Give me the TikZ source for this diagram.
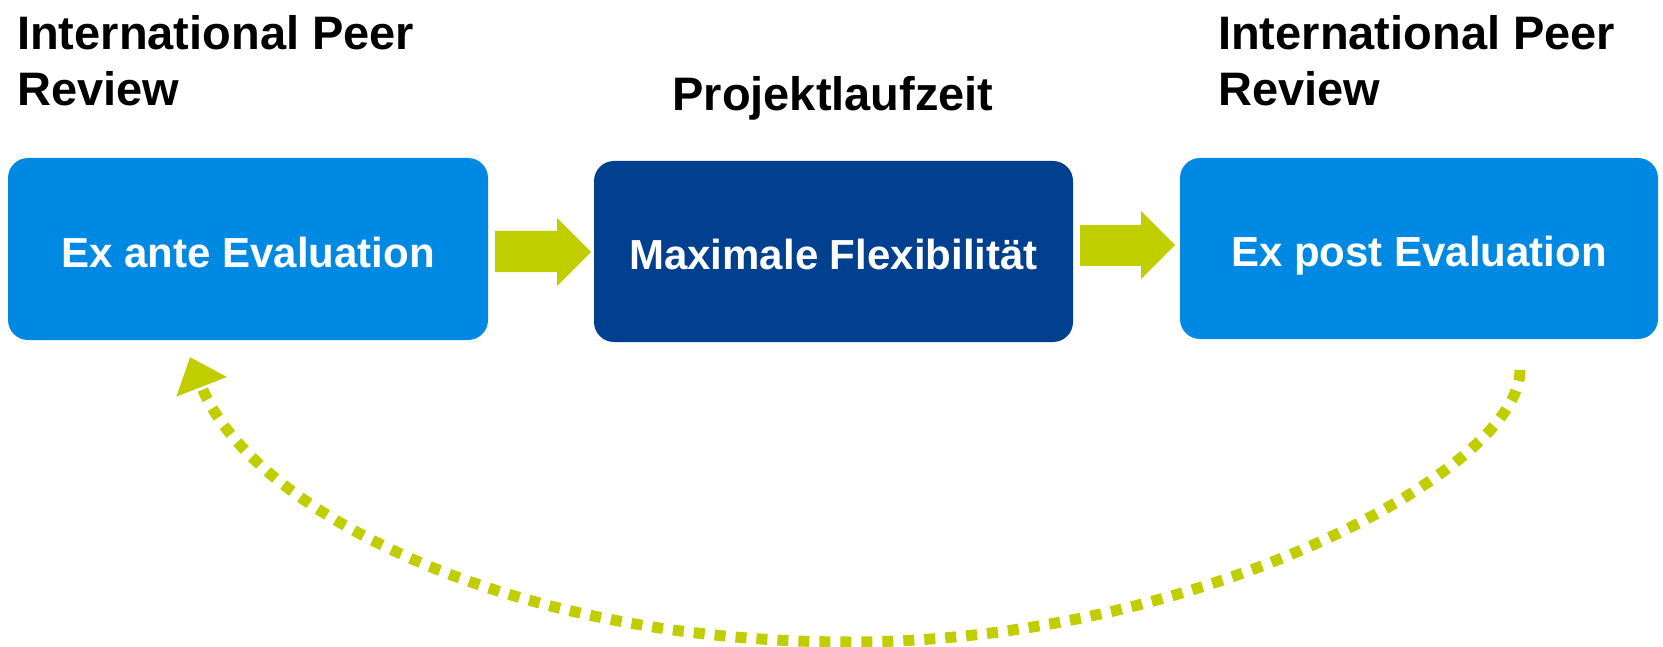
\documentclass[tikz,border=0pt]{standalone}
\usepackage{fontspec}
\setmainfont{Liberation Sans}
\usetikzlibrary{arrows.meta}
\definecolor{lblue}{RGB}{0,137,227}
\definecolor{dblue}{RGB}{0,64,143}
\definecolor{lgreen}{RGB}{192,206,0}
\tikzset{
  box/.style={rounded corners=20pt, minimum width=479pt, minimum height=181pt, inner sep=0pt,
    text=white, font=\fontsize{42}{48}\bfseries\selectfont, text height=36pt, text depth=0pt},
  title/.style={inner sep=0pt, font=\fontsize{47}{56}\bfseries\selectfont, align=left},
  blockarrow/.style={fill=lgreen},
  feedback/.style={draw=lgreen, line width=11pt, dash pattern=on 11pt off 10pt,
    -{Triangle[length=32pt,width=52pt]}}
}
\begin{document}
\begin{tikzpicture}[x=1pt,y=-1pt]
\useasboundingbox (0,0) rectangle (1663,647);
% boxes
\node[box, fill=lblue, minimum width=480pt, minimum height=182pt] (b1) at (248,249) {Ex ante Evaluation};
\node[box, fill=dblue] (b2) at (833.5,251.5) {Maximale Flexibilität};
\node[box, fill=lblue, minimum width=478pt] (b3) at (1419,248.5) {Ex post Evaluation};
% titles
\node[title, anchor=north west] (t1) at (17,15) {International Peer\\Review};
\node[title, anchor=base] (t2) at (833,111) {Projektlaufzeit};
\node[title, anchor=north west] (t3) at (1218,15) {International Peer\\Review};
% block arrows
\fill[blockarrow] (495,231) -- (557,231) -- (557,218) -- (591,252) -- (557,286) -- (557,272) -- (495,272) -- cycle;
\fill[blockarrow] (1080,225) -- (1141,225) -- (1141,211) -- (1175,245) -- (1141,279) -- (1141,266) -- (1080,266) -- cycle;
% feedback arrow
\coordinate (fs) at (1520,370);
\coordinate (fm) at (850,642);
\coordinate (fe) at (190,357);
\draw[feedback] (fs) .. controls (1520,470) and (1200,642) .. (fm)
                     .. controls (500,642) and (248,506) .. (fe);
\end{tikzpicture}
\end{document}
